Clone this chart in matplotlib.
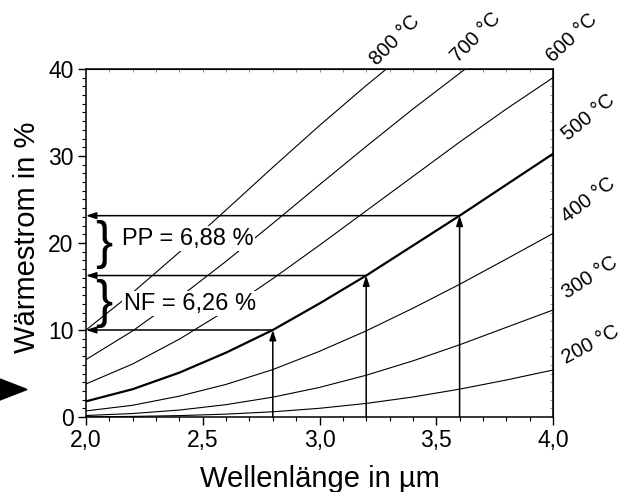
import matplotlib.pyplot as plt
from matplotlib.ticker import MultipleLocator
from matplotlib.patches import Polygon

plt.rcParams['font.family'] = 'Liberation Sans'

# wavelength grid (um) and heat flux share (%), one list per temperature
wavelength = [2.0, 2.2, 2.4, 2.6, 2.8, 3.0, 3.2, 3.4, 3.6, 3.8, 4.0]
q200 = [0.02, 0.07, 0.16, 0.33, 0.6, 1.0, 1.56, 2.3, 3.2, 4.25, 5.4]
q300 = [0.17, 0.4, 0.8, 1.42, 2.28, 3.4, 4.8, 6.45, 8.3, 10.3, 12.3]
q400 = [0.7, 1.35, 2.4, 3.75, 5.45, 7.55, 9.9, 12.5, 15.25, 18.15, 21.1]
q500 = [1.8, 3.2, 5.1, 7.4, 10.0, 13.05, 16.26, 19.7, 23.14, 26.7, 30.25]
q600 = [3.8, 6.1, 8.95, 12.25, 15.9, 19.75, 23.7, 27.65, 31.6, 35.4, 39.0]
q700 = [6.6, 9.9, 13.75, 17.9, 22.25, 26.7, 31.1, 35.4, 39.5, 43.5]
q800 = [10.0, 14.3, 18.95, 23.8, 28.7, 33.5, 38.1, 42.5]
curves = [q200, q300, q400, q500, q600, q700, q800]
temp_labels = ['200 °C', '300 °C', '400 °C', '500 °C', '600 °C', '700 °C', '800 °C']

# operating points on the 500 degC curve
arrow_x = [2.8, 3.2, 3.6]
arrow_y = [10.0, 16.26, 23.14]

xticks = [2.0, 2.5, 3.0, 3.5, 4.0]
xtick_labels = ['2,0', '2,5', '3,0', '3,5', '4,0']
yticks = [0, 10, 20, 30, 40]

fig = plt.figure(figsize=(6.28, 4.92), dpi=100)
ax = fig.add_axes([86/628, 1-417/492, 467/628, 348/492])

for vals in curves:
    lw = 1.6 if vals is q500 else 0.8
    ax.plot(wavelength[:len(vals)], vals, color='black', lw=lw, zorder=2)

#temperature labels outside the frame
label_pos = [(4.16, 8.3, 28), (4.16, 16.0, 33), (4.152, 24.9, 37), (4.152, 34.4, 39),
             (4.081, 43.6, 43), (3.67, 43.6, 45), (3.323, 43.3, 45)]
for lab, (x, y, rot) in zip(temp_labels, label_pos):
    ax.text(x, y, lab, fontsize=14.5, rotation=rot, rotation_mode='anchor',
            ha='center', va='center', clip_on=False)

arr = dict(arrowstyle='-|>,head_length=0.6,head_width=0.2', lw=1.1, color='black',
           shrinkA=0, shrinkB=0, mutation_scale=10)
for x, y in zip(arrow_x, arrow_y):
    ax.annotate('', xy=(x, y), xytext=(x, 0), arrowprops=arr, zorder=4)
    ax.annotate('', xy=(2.0, y), xytext=(x, y), arrowprops=arr, zorder=4)

# braces and differences
ax.text(2.076, 19.8, '}', fontsize=37, ha='center', va='center', zorder=5)
ax.text(2.076, 13.1, '}', fontsize=37, ha='center', va='center', zorder=5)
ax.text(2.154, 20.5, 'PP = 6,88 %', fontsize=17, va='center', zorder=5,
        bbox=dict(fc='white', ec='none', pad=1))
ax.text(2.162, 13.0, 'NF = 6,26 %', fontsize=17, va='center', zorder=5,
        bbox=dict(fc='white', ec='none', pad=1))

ax.set_xlim(2.0, 4.0)
ax.set_ylim(0, 40)
ax.set_xticks(xticks)
ax.set_xticklabels(xtick_labels)
ax.set_yticks(yticks)
ax.xaxis.set_minor_locator(MultipleLocator(0.1))
ax.yaxis.set_minor_locator(MultipleLocator(1))
ax.tick_params(which='major', direction='out', length=6, width=1, labelsize=16.5, pad=3)
ax.tick_params(which='minor', direction='out', length=3, width=0.8)
for s in ax.spines.values():
    s.set_linewidth(1.1)

secx = ax.secondary_xaxis('top')
secx.set_xticks(xticks)
secx.xaxis.set_minor_locator(MultipleLocator(0.1))
secx.tick_params(which='both', direction='in', length=2, width=0.6, labeltop=False, color='gray')
secy = ax.secondary_yaxis('right')
secy.set_yticks(yticks)
secy.yaxis.set_minor_locator(MultipleLocator(1))
secy.tick_params(which='both', direction='in', length=2, width=0.6, labelright=False, color='gray')

ax.text(0.5, -0.2, 'Wellenlänge in µm', transform=ax.transAxes, fontsize=21,
        ha='center', va='baseline')
ax.text(-0.1274, 0.515, 'Wärmestrom in %', transform=ax.transAxes, fontsize=21,
        rotation=90, ha='center', va='center')

#black wedge at the left border
fig.add_artist(Polygon([[0, 1-379/492], [27/628, 1-389.5/492], [0, 1-400/492]],
                       closed=True, transform=fig.transFigure, color='black'))

fig.savefig('out.png', dpi=100)
